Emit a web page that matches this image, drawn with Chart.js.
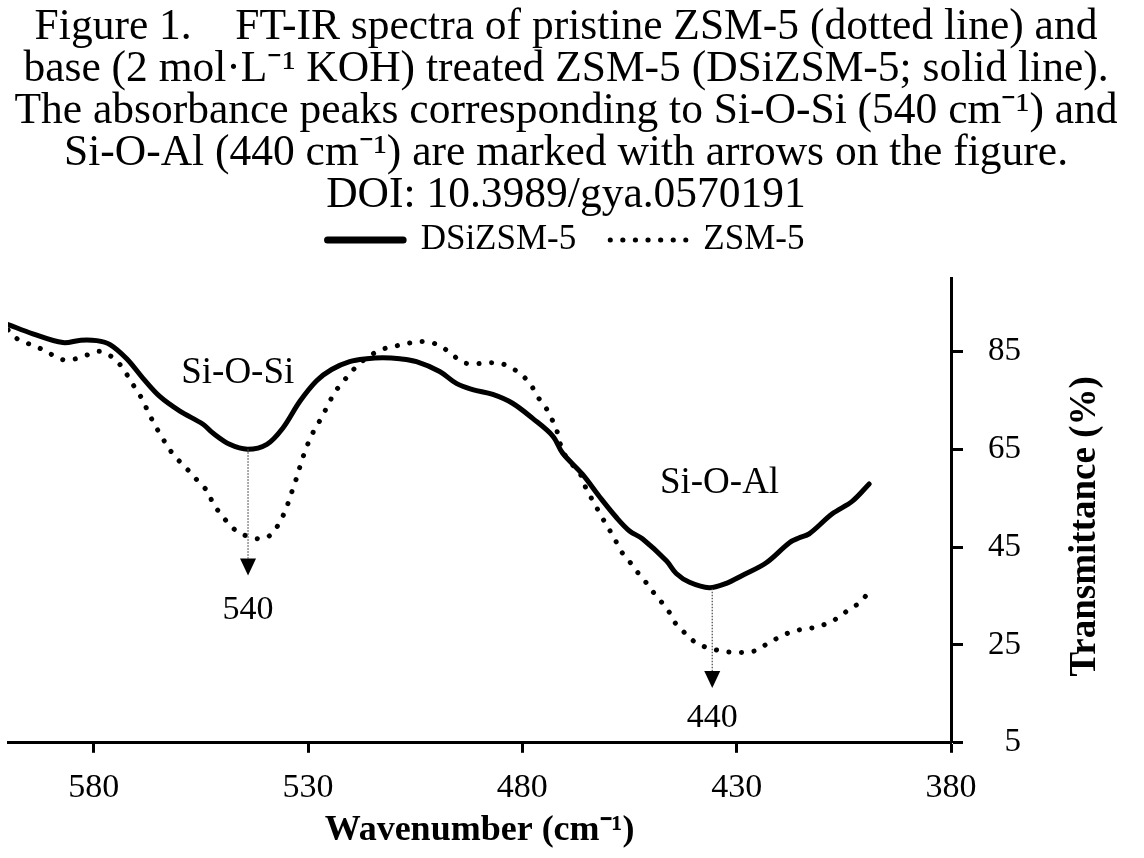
<!DOCTYPE html>
<html>
<head>
<meta charset="utf-8">
<script src="https://cdn.jsdelivr.net/npm/chart.js@4.4.0/dist/chart.umd.min.js"></script>
<style>
html,body{margin:0;padding:0;background:#fff;}
#c{display:block;}
</style>
</head>
<body>
<canvas id="c" width="1144" height="858"></canvas>
<script>
// ---------- data ----------
const titleLines = [
  'Figure 1.    FT-IR spectra of pristine ZSM-5 (dotted line) and',
  'base (2 mol\u00B7L\u207B\u00B9 KOH) treated ZSM-5 (DSiZSM-5; solid line).',
  'The absorbance peaks corresponding to Si-O-Si (540 cm\u207B\u00B9) and',
  'Si-O-Al (440 cm\u207B\u00B9) are marked with arrows on the figure.',
  'DOI: 10.3989/gya.0570191'
];
const seriesNames = ['DSiZSM-5', 'ZSM-5'];
const xTickValues = [380, 430, 480, 530, 580];
const yTickValues = [5, 25, 45, 65, 85];
const xAxisTitle = 'Wavenumber (cm\u207B\u00B9)';
const yAxisTitle = 'Transmittance (%)';

// DSiZSM-5 (solid line)
const dsiWave = [600, 594.2, 587.2, 583, 579.3, 576.2, 572.3, 568.5, 564.6, 559.9, 554.5, 552.2, 548.3, 544.1, 539.6, 535.9, 531.9, 528, 524.5, 520.3, 516.3, 512.6, 508.6, 504.7, 499.3, 495.3, 491.6, 486.9, 482.3, 477.6, 472.9, 470.6, 466, 462, 458, 455, 452, 446.4, 444.1, 441, 436.4, 432.4, 428.7, 423.1, 417.7, 415.4, 413.1, 407.7, 403, 399.1];
const dsiT    = [90.5, 88.6, 86.8, 87.3, 87.2, 86.4, 83.5, 79.5, 75.8, 72.8, 70.1, 68.3, 66.0, 65.0, 66.0, 69.3, 74.8, 79.0, 81.3, 82.9, 83.5, 83.7, 83.5, 82.9, 80.9, 78.4, 77.2, 76.2, 74.4, 71.3, 67.7, 64.2, 59.9, 55.3, 51.0, 48.3, 46.7, 42.2, 39.6, 37.8, 36.7, 37.6, 39.2, 41.8, 45.9, 46.9, 47.7, 51.8, 54.4, 57.9];

// ZSM-5 (dotted line)
const zsmWave = [600, 597.9, 595.3, 592.5, 589.7, 587.2, 584.1, 581.4, 578.6, 575.8, 573.7, 572, 570.4, 568.8, 567.6, 566.2, 564.8, 563.2, 561.5, 559.4, 557.3, 555.5, 553.4, 552.2, 550.6, 548.7, 546.4, 543.6, 540.6, 538.2, 536.6, 535.2, 534.3, 533.3, 532.4, 531.5, 530.5, 529.4, 528, 526.6, 525.2, 523.8, 521.9, 520, 518, 515.6, 512.8, 510, 507, 504.2, 501.2, 498.6, 496.3, 493.7, 490.7, 487.9, 484.9, 482.3, 480, 477.9, 476.5, 474.6, 473.2, 472, 471.3, 470.2, 468.3, 466.2, 465.3, 463.9, 462.5, 461.1, 459.4, 458, 456.6, 454.6, 452.9, 451, 449.2, 447.3, 445.5, 444.1, 442, 439.6, 437.1, 434.3, 431.2, 428.2, 425.4, 422.8, 420, 417.5, 414.7, 411.7, 408.9, 406.3, 403.7, 401.2, 399.3];
const zsmT    = [89.4, 87.6, 86.6, 85.6, 84.3, 83.3, 83.5, 84.3, 85, 83.9, 82.1, 79.9, 77.6, 75.4, 73.2, 70.7, 68.5, 66.2, 64, 62, 60.1, 58.3, 56.3, 54, 52, 50, 48.1, 47.1, 46.7, 47.9, 50.2, 52.6, 55, 57.5, 59.9, 62.6, 65, 67.5, 69.7, 71.9, 74.3, 76.6, 78.7, 80.7, 82.5, 84.1, 85.4, 86, 86.6, 87, 86.8, 85.8, 84.3, 82.7, 82.5, 82.7, 82.5, 81.5, 80.1, 78, 75.8, 73.6, 71.3, 68.9, 66.5, 64, 61.8, 59.5, 57.3, 55, 52.8, 50.6, 48.1, 45.9, 43.7, 41.6, 39.6, 37.6, 35.5, 33.5, 31.4, 29.2, 27.4, 25.5, 24.5, 23.9, 23.5, 23.5, 23.9, 25.3, 26.6, 27.6, 28.2, 28.6, 29.4, 30.6, 32.3, 33.7, 35.7];

// annotations (data coordinates)
const bandNames     = ['Si-O-Si', 'Si-O-Al'];
const bandNameWave  = [546.4, 434];
const bandNameT     = [80.5, 58.1];
const arrowWave     = [544, 435.7];
const arrowFromT    = [65, 36.5];
const arrowToT      = [39.2, 16.2];
const arrowLabels   = ['540', '440'];
const arrowLabelT   = [32.1, 10.1];

// ---------- chart ----------
const SERIF = "'Liberation Serif', 'Times New Roman', serif";

const annotationPlugin = {
  id: 'peakMarks',
  afterDatasetsDraw(chart) {
    const ctx = chart.ctx, xs = chart.scales.x, ys = chart.scales.y;
    ctx.save();
    ctx.fillStyle = '#000';
    ctx.textAlign = 'center';
    ctx.textBaseline = 'middle';
    ctx.font = '37px ' + SERIF;
    bandNames.forEach((t, i) => {
      ctx.fillText(t, xs.getPixelForValue(bandNameWave[i]), ys.getPixelForValue(bandNameT[i]));
    });
    arrowLabels.forEach((t, i) => {
      const x = xs.getPixelForValue(arrowWave[i]);
      const y0 = ys.getPixelForValue(arrowFromT[i]);
      const y1 = ys.getPixelForValue(arrowToT[i]);
      const head = 17;
      ctx.save();
      ctx.strokeStyle = '#555';
      ctx.lineWidth = 1.3;
      ctx.setLineDash([1.5, 1.5]);
      ctx.beginPath();
      ctx.moveTo(x, y0);
      ctx.lineTo(x, y1 - head);
      ctx.stroke();
      ctx.restore();
      ctx.beginPath();
      ctx.moveTo(x - 8, y1 - head);
      ctx.lineTo(x + 8, y1 - head);
      ctx.lineTo(x, y1);
      ctx.closePath();
      ctx.fill();
      ctx.font = '34px ' + SERIF;
      ctx.fillText(t, x, ys.getPixelForValue(arrowLabelT[i]));
    });
    ctx.restore();
  }
};

const yTitlePlugin = {
  id: 'yTitleBottomToTop',
  afterDraw(chart) {
    const ctx = chart.ctx, a = chart.chartArea;
    ctx.save();
    ctx.translate(1085, (a.top + a.bottom) / 2 + 16);
    ctx.rotate(-Math.PI / 2);
    ctx.font = 'bold 37px ' + SERIF;
    ctx.fillStyle = '#000';
    ctx.textAlign = 'center';
    ctx.textBaseline = 'middle';
    ctx.fillText(yAxisTitle, 0, 0);
    ctx.restore();
  }
};

new Chart(document.getElementById('c'), {
  type: 'line',
  data: {
    datasets: [
      {
        label: seriesNames[0],
        data: dsiWave.map((w, i) => ({x: w, y: dsiT[i]})),
        borderColor: '#000',
        backgroundColor: '#000',
        borderWidth: 5,
        pointRadius: 0,
        tension: 0.35,
        fill: false,
        borderCapStyle: 'round',
        borderJoinStyle: 'round'
      },
      {
        label: seriesNames[1],
        data: zsmWave.map((w, i) => ({x: w, y: zsmT[i]})),
        borderColor: '#000',
        backgroundColor: '#000',
        borderWidth: 5,
        borderDash: [0.1, 12.5],
        borderCapStyle: 'round',
        pointRadius: 0,
        tension: 0.35,
        fill: false
      }
    ]
  },
  options: {
    responsive: false,
    animation: false,
    devicePixelRatio: 1,
    layout: { padding: { left: 8, right: 20, top: 0, bottom: 20 } },
    plugins: {
      title: {
        display: true,
        text: titleLines,
        color: '#000',
        font: { family: SERIF, size: 43.5, weight: 'normal', lineHeight: 42 / 43.5 },
        padding: { top: 7, bottom: -28.5 }
      },
      subtitle: {
        display: true,
        text: '',
        weight: 500,
        font: { family: SERIF, size: 1, lineHeight: 0 },
        padding: { top: 10.5, bottom: 0 }
      },
      legend: {
        display: true,
        position: 'top',
        fullSize: true,
        labels: {
          usePointStyle: false,
          boxWidth: 75.6,
          boxHeight: 0,
          color: '#000',
          font: { family: SERIF, size: 35 },
          padding: 34,
          generateLabels(chart) {
            const items = Chart.defaults.plugins.legend.labels.generateLabels(chart);
            items.forEach(it => { if (it.datasetIndex === 0) { it.lineWidth = 7; it.lineCap = 'round'; } });
            return items;
          }
        }
      },
      tooltip: { enabled: false }
    },
    scales: {
      x: {
        type: 'linear',
        position: 'bottom',
        reverse: true,
        min: 380,
        max: 600,
        afterBuildTicks(axis) { axis.ticks = xTickValues.map(v => ({ value: v })); },
        grid: { drawOnChartArea: false, drawTicks: true, tickLength: 10, tickWidth: 3, tickColor: '#000' },
        border: { display: true, color: '#000', width: 3 },
        ticks: { autoSkip: false, maxRotation: 0, color: '#000', padding: 15, font: { family: SERIF, size: 34 } },
        title: { display: true, text: xAxisTitle, color: '#000', font: { family: SERIF, size: 36, weight: 'bold', lineHeight: 0.4 }, padding: { top: 0, bottom: 0 } }
      },
      y: {
        type: 'linear',
        position: 'right',
        min: 5,
        max: 100,
        afterBuildTicks(axis) { axis.ticks = yTickValues.map(v => ({ value: v })); },
        afterFit(axis) { axis.width = 70; },
        grid: { drawOnChartArea: false, drawTicks: true, tickLength: 12, tickWidth: 3, tickColor: '#000' },
        border: { display: true, color: '#000', width: 3 },
        ticks: { autoSkip: false, crossAlign: 'far', color: '#000', padding: 24, font: { family: SERIF, size: 33 } }
      },
      yTitleSpace: {
        type: 'linear',
        position: 'right',
        min: 0,
        max: 1,
        afterFit(axis) { axis.width = 103; },
        grid: { display: false, drawTicks: false },
        border: { display: false },
        ticks: { display: false }
      }
    }
  },
  plugins: [annotationPlugin, yTitlePlugin]
});
</script>
</body>
</html>
